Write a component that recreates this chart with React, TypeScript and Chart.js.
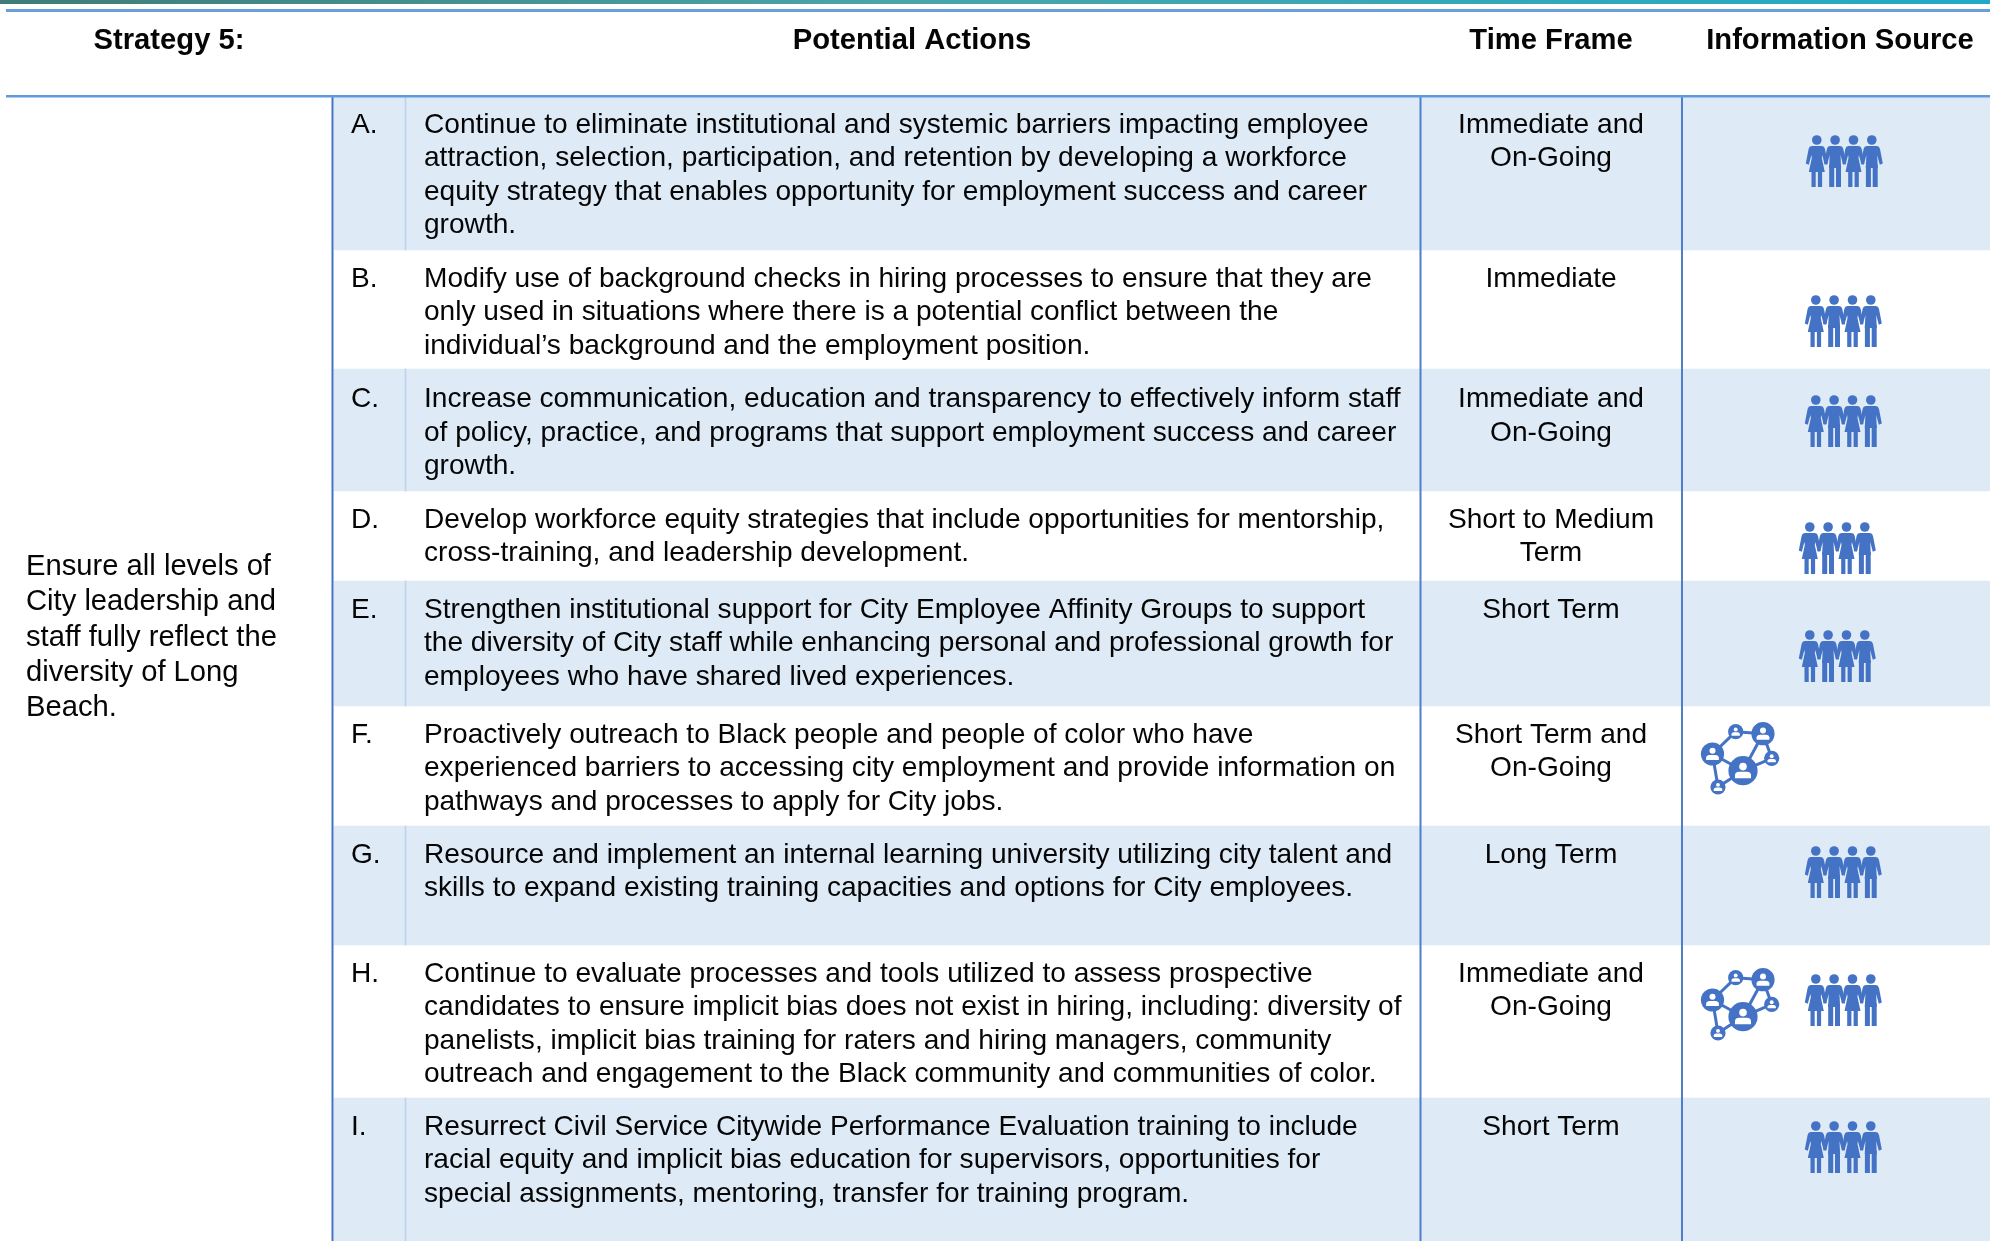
import React, { useEffect, useRef } from "react";
import { Chart, registerables } from "chart.js";

Chart.register(...registerables);

const headers = ["Strategy 5:", "Potential Actions", "Time Frame", "Information Source"];
const strategyText = ["Ensure all levels of", "City leadership and", "staff fully reflect the", "diversity of Long", "Beach."];
const rowLetters = ["A.", "B.", "C.", "D.", "E.", "F.", "G.", "H.", "I."];
const rowActions = [
  ["Continue to eliminate institutional and systemic barriers impacting employee", "attraction, selection, participation, and retention by developing a workforce", "equity strategy that enables opportunity for employment success and career", "growth."],
  ["Modify use of background checks in hiring processes to ensure that they are", "only used in situations where there is a potential conflict between the", "individual’s background and the employment position."],
  ["Increase communication, education and transparency to effectively inform staff", "of policy, practice, and programs that support employment success and career", "growth."],
  ["Develop workforce equity strategies that include opportunities for mentorship,", "cross-training, and leadership development."],
  ["Strengthen institutional support for City Employee Affinity Groups to support", "the diversity of City staff while enhancing personal and professional growth for", "employees who have shared lived experiences."],
  ["Proactively outreach to Black people and people of color who have", "experienced barriers to accessing city employment and provide information on", "pathways and processes to apply for City jobs."],
  ["Resource and implement an internal learning university utilizing city talent and", "skills to expand existing training capacities and options for City employees."],
  ["Continue to evaluate processes and tools utilized to assess prospective", "candidates to ensure implicit bias does not exist in hiring, including: diversity of", "panelists, implicit bias training for raters and hiring managers, community", "outreach and engagement to the Black community and communities of color."],
  ["Resurrect Civil Service Citywide Performance Evaluation training to include", "racial equity and implicit bias education for supervisors, opportunities for", "special assignments, mentoring, transfer for training program."],
];
const rowTimeFrames = [
  ["Immediate and", "On-Going"], ["Immediate"], ["Immediate and", "On-Going"], ["Short to Medium", "Term"], ["Short Term"],
  ["Short Term and", "On-Going"], ["Long Term"], ["Immediate and", "On-Going"], ["Short Term"],
];
const rowEdges = [97, 250, 369, 491, 581, 706, 826, 945, 1098, 1241];
const rowBaselines = [133, 287, 407.3, 528, 618, 743, 863, 982, 1135];
const peoplePoints = [
  { x: 1844, y: 161 }, { x: 1843, y: 321 }, { x: 1843, y: 421 }, { x: 1837, y: 548 }, { x: 1837, y: 656 },
  { x: 1843, y: 872 }, { x: 1843, y: 1000 }, { x: 1843, y: 1147 },
];
const networkPoints = [{ x: 1741, y: 759 }, { x: 1741, y: 1005 }];

const INK = "#050505";
const BLUE = "#4472c4";
const BODY_FONT = "28.1px 'Liberation Sans'";
const STRATEGY_FONT = "29.2px 'Liberation Sans'";
const HEAD_FONT = "bold 29.2px 'Liberation Sans'";
const LINE_PITCH = 33.45;

function makePeopleIcon() {
  const c = document.createElement("canvas");
  c.width = 82;
  c.height = 58;
  const g = c.getContext("2d")!;
  g.filter = "blur(0.35px)";
  g.translate(2.5, 3);
  g.fillStyle = BLUE;
  const figure = (cx: number, woman: boolean) => {
    g.beginPath();
    g.arc(cx, 5, 4.8, 0, Math.PI * 2);
    g.fill();
    g.beginPath();
    g.moveTo(cx - 5, 11);
    g.lineTo(cx + 5, 11);
    g.quadraticCurveTo(cx + 7.6, 11.2, cx + 8.2, 14);
    g.lineTo(cx + 11, 28.5);
    g.lineTo(cx + 8, 29.8);
    g.lineTo(cx + 5.4, 20);
    if (woman) {
      g.lineTo(cx + 5, 23);
      g.lineTo(cx + 8, 37);
      g.lineTo(cx - 8, 37);
      g.lineTo(cx - 5, 23);
    } else {
      g.lineTo(cx + 6, 33);
      g.lineTo(cx - 6, 33);
    }
    g.lineTo(cx - 5.4, 20);
    g.lineTo(cx - 8, 29.8);
    g.lineTo(cx - 11, 28.5);
    g.lineTo(cx - 8.2, 14);
    g.quadraticCurveTo(cx - 7.6, 11.2, cx - 5, 11);
    g.closePath();
    g.fill();
    const legTop = woman ? 36 : 30;
    const off = woman ? 1.1 : 0.9;
    const w = woman ? 4.2 : 5;
    g.fillRect(cx - off - w, legTop, w, 52 - legTop);
    g.fillRect(cx + off, legTop, w, 52 - legTop);
  };
  figure(11.3, true);
  figure(29.6, false);
  figure(48, true);
  figure(66.3, false);
  return c;
}

function makeNetworkIcon() {
  const c = document.createElement("canvas");
  c.width = 84;
  c.height = 78;
  const g = c.getContext("2d")!;
  g.filter = "blur(0.35px)";
  g.translate(2, 2);
  const nodes: number[][] = [
    [11.5, 32, 11.6], [34.7, 9.7, 7.6], [62, 11.7, 11.6], [70.7, 36.3, 7.6], [42, 48.7, 14.6], [17, 65, 7.6],
  ];
  const edges = [[0, 1], [1, 2], [2, 4], [2, 3], [3, 4], [0, 4], [0, 5], [5, 4]];
  g.strokeStyle = BLUE;
  g.lineWidth = 3;
  edges.forEach(([a, b]) => {
    g.beginPath();
    g.moveTo(nodes[a][0], nodes[a][1]);
    g.lineTo(nodes[b][0], nodes[b][1]);
    g.stroke();
  });
  nodes.forEach(([x, y, r]) => {
    g.fillStyle = BLUE;
    g.beginPath();
    g.arc(x, y, r, 0, Math.PI * 2);
    g.fill();
    g.fillStyle = "#ffffff";
    g.beginPath();
    g.arc(x, y - r * 0.28, r * 0.26, 0, Math.PI * 2);
    g.fill();
    g.beginPath();
    g.moveTo(x - r * 0.55, y + r * 0.52);
    g.lineTo(x - r * 0.55, y + r * 0.3);
    g.quadraticCurveTo(x - r * 0.52, y + r * 0.08, x - r * 0.25, y + r * 0.08);
    g.lineTo(x + r * 0.25, y + r * 0.08);
    g.quadraticCurveTo(x + r * 0.52, y + r * 0.08, x + r * 0.55, y + r * 0.3);
    g.lineTo(x + r * 0.55, y + r * 0.52);
    g.closePath();
    g.fill();
  });
  return c;
}

const tableText = {
  id: "tableText",
  afterDatasetsDraw(chart: any) {
    const { ctx, scales } = chart;
    const X = (v: number) => scales.x.getPixelForValue(v);
    const Y = (v: number) => scales.y.getPixelForValue(v);
    ctx.save();
    ctx.fillStyle = INK;
    ctx.textBaseline = "alphabetic";
    ctx.font = HEAD_FONT;
    ctx.textAlign = "center";
    const headX = [169, 912, 1551, 1840];
    headers.forEach((h, i) => ctx.fillText(h, X(headX[i]), Y(49)));
    ctx.font = BODY_FONT;
    rowActions.forEach((lines, r) => {
      const base = rowBaselines[r];
      ctx.textAlign = "left";
      ctx.fillText(rowLetters[r], X(351), Y(base));
      lines.forEach((t, i) => ctx.fillText(t, X(424), Y(base + i * LINE_PITCH)));
      ctx.textAlign = "center";
      rowTimeFrames[r].forEach((t, i) => ctx.fillText(t, X(1551), Y(base + i * LINE_PITCH)));
    });
    ctx.textAlign = "left";
    ctx.font = STRATEGY_FONT;
    strategyText.forEach((t, i) => ctx.fillText(t, X(26), Y(575 + i * 35.3)));
    ctx.restore();
  },
};

const rowBand = (i: number) => ({ y: [rowEdges[i], rowEdges[i + 1]] });
const blueRows = [0, 2, 4, 6, 8];
const rule = (x0: number, x1: number, y0: number, y1: number, color: any, width: number, order = 3) => ({
  type: "line",
  data: [{ x: x0, y: y0 }, { x: x1, y: y1 }],
  borderColor: color,
  borderWidth: width,
  pointRadius: 0,
  order,
  clip: false,
});

export default function App() {
  const ref = useRef<HTMLCanvasElement>(null);
  useEffect(() => {
    document.body.style.margin = "0";
    const canvas = ref.current!;
    const grad = canvas.getContext("2d")!.createLinearGradient(0, 0, 1990, 0);
    grad.addColorStop(0, "#3f7c78");
    grad.addColorStop(0.45, "#4aa5a8");
    grad.addColorStop(1, "#22aac4");
    const people = makePeopleIcon();
    const network = makeNetworkIcon();
    const chart = new Chart(canvas, {
      type: "bar",
      data: {
        datasets: [
          {
            data: blueRows.map((i) => ({ x: 1162, ...rowBand(i) })),
            backgroundColor: "#deeaf6",
            barThickness: 1656,
            grouped: false,
            order: 6,
          },
          {
            data: blueRows.map((i) => ({ x: 405.5, ...rowBand(i) })),
            backgroundColor: "#bcd3ec",
            barThickness: 1,
            grouped: false,
            order: 5,
          },
          rule(0, 1990, 1.5, 1.5, grad, 5),
          rule(6, 1990, 10.5, 10.5, "#669fdc", 3),
          rule(6, 1990, 96.3, 96.3, "#5f9bdc", 2.6),
          rule(332.5, 332.5, 96, 1241, BLUE, 2),
          rule(1420.5, 1420.5, 96, 1241, "#4f7fcb", 2),
          rule(1682, 1682, 96, 1241, "#4f7fcb", 2),
          {
            type: "scatter",
            data: peoplePoints,
            pointStyle: people,
            pointRadius: 10,
            order: 2,
            clip: false,
          },
          {
            type: "scatter",
            data: networkPoints,
            pointStyle: network,
            pointRadius: 10,
            order: 1,
            clip: false,
          },
        ] as any,
      },
      options: {
        animation: false,
        responsive: false,
        events: [],
        layout: { padding: 0, autoPadding: false },
        scales: {
          x: { type: "linear", min: 0, max: 1990, display: false, offset: false, grid: { offset: false } },
          y: { type: "linear", min: 0, max: 1241, reverse: true, display: false, offset: false },
        },
        plugins: { legend: { display: false }, tooltip: { enabled: false }, title: { display: false } },
      },
      plugins: [tableText],
    } as any);
    return () => chart.destroy();
  }, []);
  return (
    <canvas
      ref={ref}
      width={1990}
      height={1241}
      style={{ display: "block", position: "fixed", left: 0, top: 0, width: 1990, height: 1241, background: "#fff" }}
    />
  );
}
